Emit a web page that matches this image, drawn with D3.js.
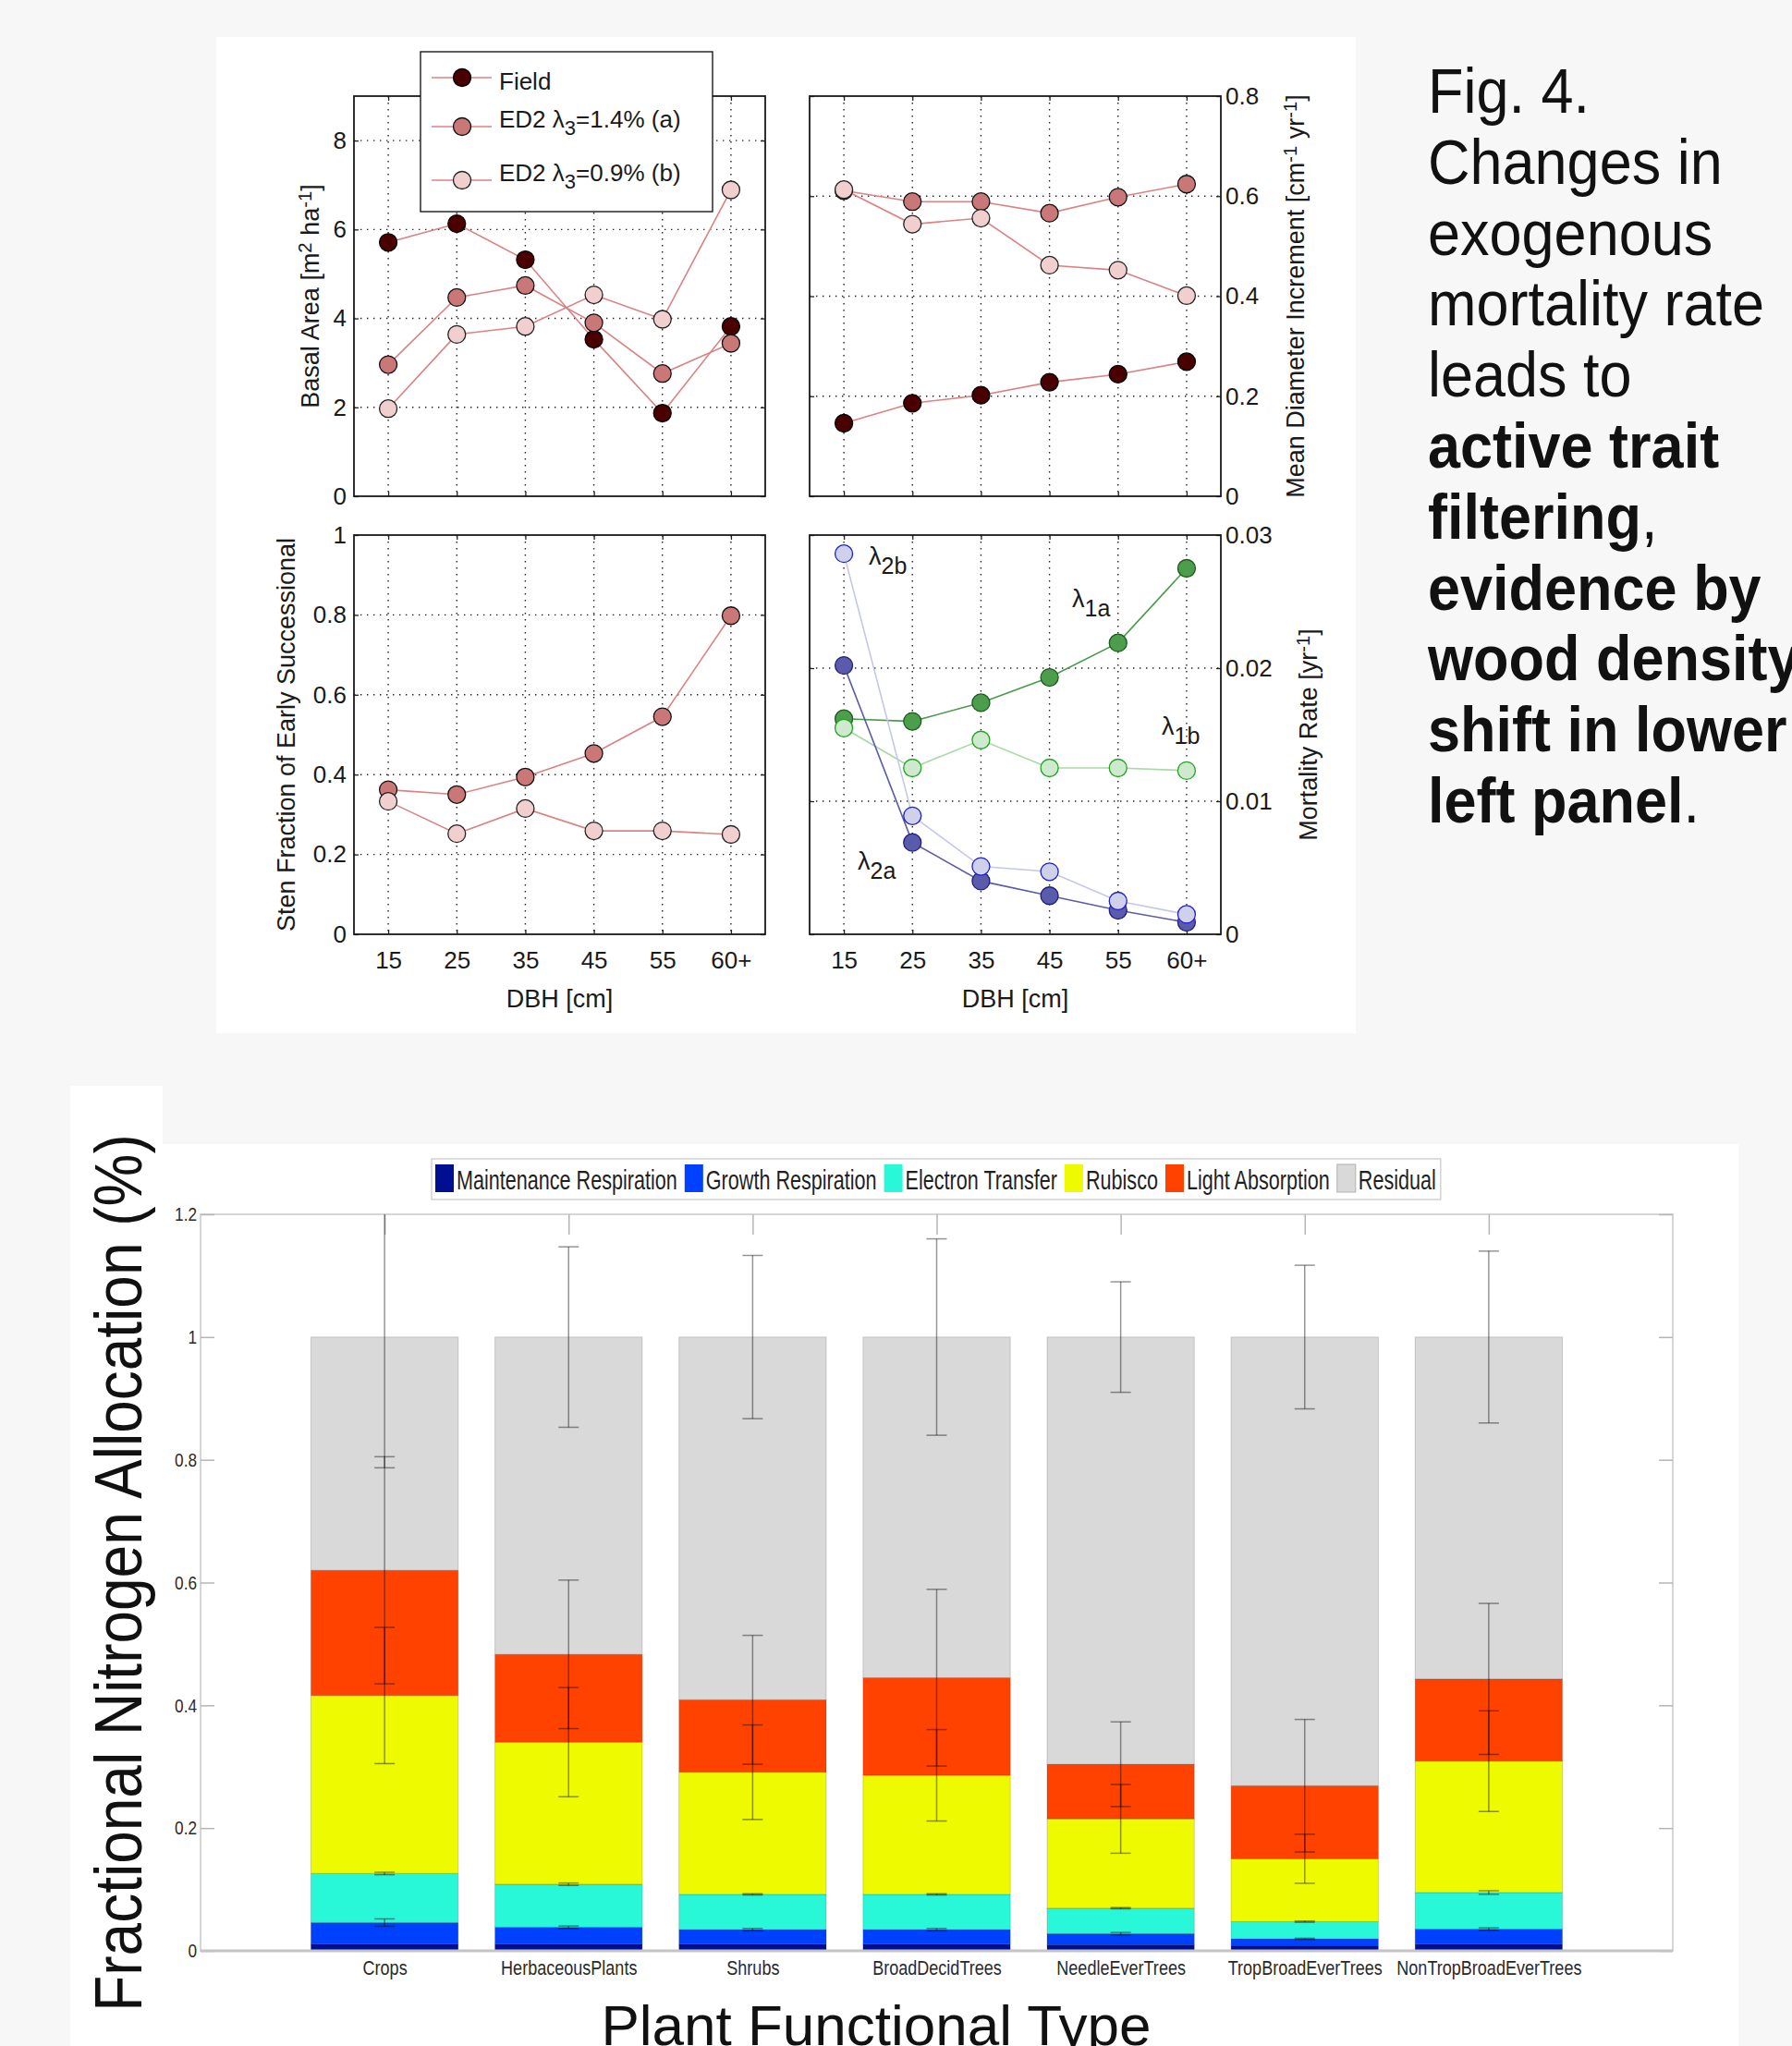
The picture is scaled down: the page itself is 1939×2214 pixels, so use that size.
<!DOCTYPE html>
<html>
<head>
<meta charset="utf-8">
<script src="https://cdnjs.cloudflare.com/ajax/libs/d3/7.8.5/d3.min.js"></script>
<style>
  body { margin: 0; background: #f7f7f8; }
  svg { display: block; }
  .grid { stroke: #222; stroke-width: 1.4; stroke-dasharray: 1.4 5.6; fill: none; }
  text { font-family: "Liberation Sans", Arial, Helvetica, sans-serif; }
</style>
</head>
<body>
<svg id="fig" width="1939" height="2214"></svg>
<script>
// ---------- stand-structure panels (DBH classes) ----------
const dbhValues = [15, 25, 35, 45, 55, 65];
const dbhLabels = ["15", "25", "35", "45", "55", "60+"];

// Basal area [m2 ha-1]
const basalField = [5.71, 6.13, 5.32, 3.53, 1.87, 3.82];
const basalA     = [2.96, 4.47, 4.74, 3.90, 2.76, 3.44];
const basalB     = [1.97, 3.64, 3.82, 4.53, 3.98, 6.89];

// Mean diameter increment [cm-1 yr-1]
const growthField = [0.146, 0.186, 0.202, 0.228, 0.244, 0.269];
const growthA     = [0.611, 0.589, 0.589, 0.566, 0.598, 0.624];
const growthB     = [0.613, 0.544, 0.556, 0.462, 0.452, 0.401];

// Stem fraction of early successional
const earlyA = [0.362, 0.350, 0.394, 0.453, 0.545, 0.798];
const earlyB = [0.333, 0.252, 0.315, 0.259, 0.259, 0.250];

// Mortality rate [yr-1]
const mort1a = [0.0162, 0.0160, 0.0174, 0.0193, 0.0219, 0.0275];
const mort1b = [0.0155, 0.0125, 0.0146, 0.0125, 0.0125, 0.0123];
const mort2a = [0.0202, 0.0069, 0.0040, 0.0029, 0.0018, 0.0009];
const mort2b = [0.0286, 0.0089, 0.0051, 0.0047, 0.0025, 0.0015];

// ---------- nitrogen allocation by plant functional type ----------
const pftNames = ["Crops", "HerbaceousPlants", "Shrubs", "BroadDecidTrees",
                  "NeedleEverTrees", "TropBroadEverTrees", "NonTropBroadEverTrees"];
const maintResp        = [0.011, 0.011, 0.011, 0.011, 0.010, 0.0075, 0.011];
const growthResp       = [0.035, 0.0275, 0.0235, 0.0235, 0.018, 0.012, 0.0245];
const electronTransfer = [0.080, 0.070, 0.0575, 0.0575, 0.0415, 0.028, 0.0595];
const rubisco          = [0.290, 0.2315, 0.199, 0.194, 0.1455, 0.1025, 0.214];
const lightAbsorption  = [0.204, 0.143, 0.118, 0.159, 0.089, 0.119, 0.134];
const residual         = [0.380, 0.517, 0.591, 0.555, 0.696, 0.731, 0.557];

// half-widths of the error bars at the top of each stacked component
const errGrowthResp = [0.006, 0.002, 0.002, 0.002, 0.002, 0.001, 0.002];
const errElectron   = [0.002, 0.002, 0.001, 0.001, 0.001, 0.001, 0.003];
const errRubisco    = [0.111, 0.089, 0.077, 0.0745, 0.056, 0.040, 0.082];
const errLight      = [0.185, 0.121, 0.105, 0.144, 0.069, 0.108, 0.123];
const errResidual   = [0.213, 0.147, 0.133, 0.160, 0.090, 0.117, 0.140];

const allocKeys   = ["Maintenance Respiration", "Growth Respiration", "Electron Transfer",
                     "Rubisco", "Light Absorption", "Residual"];
const allocColors = ["#000e92", "#0041ff", "#28f8d8", "#eefa00", "#ff4200", "#d9d9d9"];

const svg = d3.select("#fig");

// ---------- backgrounds ----------
svg.append("rect").attr("x", 0).attr("y", 0).attr("width", 1939).attr("height", 2214).attr("fill", "#f7f7f8");
svg.append("rect").attr("x", 234).attr("y", 40).attr("width", 1233).attr("height", 1078).attr("fill", "#fff");
svg.append("rect").attr("x", 76).attr("y", 1175).attr("width", 100).attr("height", 1039).attr("fill", "#fff");
svg.append("rect").attr("x", 174).attr("y", 1238).attr("width", 1707).attr("height", 976).attr("fill", "#fff");

// writes a run of text pieces with optional super/subscripts into a <text>
function rich(textSel, parts, baseSize) {
  parts.forEach(p => {
    const ts = textSel.append("tspan").text(p.t);
    if (p.sup) ts.attr("font-size", baseSize * 0.75).attr("baseline-shift", "42%");
    if (p.sub) ts.attr("font-size", baseSize * 0.85).attr("baseline-shift", "-38%");
  });
  return textSel;
}

const dbhX = (x0, x1) => d3.scaleLinear().domain([10, 70]).range([x0, x1]);

function panel(cfg) {
  const g = svg.append("g");
  const x = dbhX(cfg.x0, cfg.x1);
  const y = d3.scaleLinear().domain(cfg.yDomain).range([cfg.y1, cfg.y0]);

  g.append("rect").attr("x", cfg.x0).attr("y", cfg.y0)
    .attr("width", cfg.x1 - cfg.x0).attr("height", cfg.y1 - cfg.y0).attr("fill", "#fff");

  // dotted grid
  g.append("g").selectAll("line").data(dbhValues).join("line").attr("class", "grid")
    .attr("x1", d => x(d)).attr("x2", d => x(d)).attr("y1", cfg.y0).attr("y2", cfg.y1);
  g.append("g").selectAll("line").data(cfg.gridY).join("line").attr("class", "grid")
    .attr("x1", cfg.x0).attr("x2", cfg.x1).attr("y1", d => y(d)).attr("y2", d => y(d));

  // y axis with labels on the requested side, bare ticks on the other
  const left = cfg.ySide === "left";
  const yAx = (left ? d3.axisLeft(y) : d3.axisRight(y)).tickValues(cfg.yTicks)
    .tickFormat(cfg.yFormat).tickSizeInner(-5).tickSizeOuter(0).tickPadding(left ? 8 : 5);
  const ya = g.append("g").attr("transform", `translate(${left ? cfg.x0 : cfg.x1},0)`).call(yAx);
  const yOpp = (left ? d3.axisRight(y) : d3.axisLeft(y)).tickValues(cfg.yTicks)
    .tickFormat("").tickSizeInner(-5).tickSizeOuter(0);
  const yb = g.append("g").attr("transform", `translate(${left ? cfg.x1 : cfg.x0},0)`).call(yOpp);

  const xAx = d3.axisBottom(x).tickValues(dbhValues)
    .tickFormat(cfg.showX ? (d, i) => dbhLabels[i] : "").tickSizeInner(-5).tickSizeOuter(0).tickPadding(19);
  const xa = g.append("g").attr("transform", `translate(0,${cfg.y1})`).call(xAx);
  const xTop = d3.axisTop(x).tickValues(dbhValues).tickFormat("").tickSizeInner(-5).tickSizeOuter(0);
  const xt = g.append("g").attr("transform", `translate(0,${cfg.y0})`).call(xTop);

  [ya, yb, xa, xt].forEach(a => {
    a.select(".domain").remove();
    a.selectAll(".tick line").attr("stroke", "#222").attr("stroke-width", 1.3);
    a.selectAll("text").attr("font-size", 26).attr("fill", "#1a1a1a");
  });

  // axes box
  g.append("rect").attr("x", cfg.x0).attr("y", cfg.y0)
    .attr("width", cfg.x1 - cfg.x0).attr("height", cfg.y1 - cfg.y0)
    .attr("fill", "none").attr("stroke", "#1a1a1a").attr("stroke-width", 1.8);

  // series: connecting line then markers
  const line = d3.line().x((d, i) => x(dbhValues[i])).y(d => y(d));
  cfg.series.forEach(s => {
    g.append("path").datum(s.values).attr("d", line).attr("fill", "none")
      .attr("stroke", s.line).attr("stroke-width", 1.6);
    g.append("g").selectAll("circle").data(s.values).join("circle")
      .attr("cx", (d, i) => x(dbhValues[i])).attr("cy", d => y(d)).attr("r", 9.5)
      .attr("fill", s.fill).attr("stroke", s.edge).attr("stroke-width", 1.3);
  });

  // axis titles
  if (cfg.yLabel) {
    const t = g.append("text").attr("transform", `translate(${cfg.yLabel.x},${(cfg.y0 + cfg.y1) / 2}) rotate(-90)`)
      .attr("text-anchor", "middle").attr("font-size", 27).attr("fill", "#1a1a1a");
    rich(t, cfg.yLabel.parts, 27);
  }
  if (cfg.showX) {
    g.append("text").attr("x", (cfg.x0 + cfg.x1) / 2).attr("y", 1090)
      .attr("text-anchor", "middle").attr("font-size", 27).attr("fill", "#1a1a1a").text("DBH [cm]");
  }
  return { g, x, y };
}

const seriesField = (v) => ({ values: v, fill: "#4a0000", edge: "#000", line: "#dc8282" });
const seriesA     = (v) => ({ values: v, fill: "#c97777", edge: "#111", line: "#dc8282" });
const seriesB     = (v) => ({ values: v, fill: "#f1cfcf", edge: "#222", line: "#dc8282" });

// top-left: basal area
panel({
  x0: 383, x1: 828, y0: 104, y1: 537, yDomain: [0, 9], yTicks: [0, 2, 4, 6, 8], gridY: [2, 4, 6, 8],
  yFormat: d3.format("d"), ySide: "left", showX: false,
  yLabel: { x: 345, parts: [{ t: "Basal Area [m" }, { t: "2", sup: true }, { t: " ha" }, { t: "-1", sup: true }, { t: "]" }] },
  series: [seriesField(basalField), seriesA(basalA), seriesB(basalB)]
});

// top-right: mean diameter increment
panel({
  x0: 876, x1: 1321, y0: 104, y1: 537, yDomain: [0, 0.8], yTicks: [0, 0.2, 0.4, 0.6, 0.8], gridY: [0.2, 0.4, 0.6],
  yFormat: d => d === 0 ? "0" : d3.format(".1f")(d), ySide: "right", showX: false,
  yLabel: { x: 1411, parts: [{ t: "Mean Diameter Increment [cm" }, { t: "-1", sup: true }, { t: " yr" }, { t: "-1", sup: true }, { t: "]" }] },
  series: [seriesField(growthField), seriesA(growthA), seriesB(growthB)]
});

// bottom-left: early successional fraction
panel({
  x0: 383, x1: 828, y0: 579, y1: 1011, yDomain: [0, 1], yTicks: [0, 0.2, 0.4, 0.6, 0.8, 1], gridY: [0.2, 0.4, 0.6, 0.8],
  yFormat: d => (d === 0 || d === 1) ? String(d) : d3.format(".1f")(d), ySide: "left", showX: true,
  yLabel: { x: 319, parts: [{ t: "Sten Fraction of Early Successional" }] },
  series: [seriesA(earlyA), seriesB(earlyB)]
});

// bottom-right: mortality rates
panel({
  x0: 876, x1: 1321, y0: 579, y1: 1011, yDomain: [0, 0.03], yTicks: [0, 0.01, 0.02, 0.03], gridY: [0.01, 0.02],
  yFormat: d => d === 0 ? "0" : d3.format(".2f")(d), ySide: "right", showX: true,
  yLabel: { x: 1425, parts: [{ t: "Mortality Rate [yr" }, { t: "-1", sup: true }, { t: "]" }] },
  series: [
    { values: mort1a, fill: "#4c9e4c", edge: "#1d5a1d", line: "#4a9a4a" },
    { values: mort1b, fill: "#cfe9cf", edge: "#1fa51f", line: "#a6daa6" },
    { values: mort2a, fill: "#5b5bab", edge: "#1f1f7e", line: "#5b5bab" },
    { values: mort2b, fill: "#cfd0ea", edge: "#1f1fd0", line: "#c4c6ea" }
  ]
});

// lambda annotations on the mortality panel
[
  { x: 940, y: 611, sub: "2b" },
  { x: 1160, y: 657, sub: "1a" },
  { x: 1257, y: 795, sub: "1b" },
  { x: 928, y: 941, sub: "2a" }
].forEach(a => {
  const t = svg.append("text").attr("x", a.x).attr("y", a.y).attr("font-size", 27).attr("fill", "#1a1a1a");
  t.append("tspan").text("λ");
  t.append("tspan").attr("dy", 10).attr("font-size", 25).text(a.sub);
});

// legend of the top-left panel
const lg = svg.append("g");
lg.append("rect").attr("x", 455).attr("y", 56).attr("width", 316).attr("height", 173)
  .attr("fill", "#fff").attr("stroke", "#1a1a1a").attr("stroke-width", 1.4);
const legendRows = [
  { y: 84, tb: 97, s: seriesField([]), parts: [{ t: "Field" }] },
  { y: 137, tb: 138, s: seriesA([]), parts: [{ t: "ED2 λ" }, { t: "3", sub: true }, { t: "=1.4% (a)" }] },
  { y: 195, tb: 196, s: seriesB([]), parts: [{ t: "ED2 λ" }, { t: "3", sub: true }, { t: "=0.9% (b)" }] }
];
legendRows.forEach(r => {
  lg.append("line").attr("x1", 467).attr("x2", 532).attr("y1", r.y).attr("y2", r.y)
    .attr("stroke", r.s.line).attr("stroke-width", 1.6);
  lg.append("circle").attr("cx", 500).attr("cy", r.y).attr("r", 9.5)
    .attr("fill", r.s.fill).attr("stroke", r.s.edge).attr("stroke-width", 1.3);
  const t = lg.append("text").attr("x", 540).attr("y", r.tb).attr("font-size", 26).attr("fill", "#1a1a1a");
  rich(t, r.parts, 26);
});

// ---------- caption ----------
const caption = [
  [{ t: "Fig. 4." }],
  [{ t: "Changes in" }],
  [{ t: "exogenous" }],
  [{ t: "mortality rate" }],
  [{ t: "leads to" }],
  [{ t: "active trait", b: true }],
  [{ t: "filtering", b: true }, { t: "," }],
  [{ t: "evidence by", b: true }],
  [{ t: "wood density", b: true }],
  [{ t: "shift in lower", b: true }],
  [{ t: "left panel", b: true }, { t: "." }]
];
caption.forEach((ln, i) => {
  const t = svg.append("text").attr("transform", `translate(1545,${122 + i * 76.8}) scale(1,1.1)`)
    .attr("font-size", 63).attr("fill", "#111");
  ln.forEach(p => t.append("tspan").attr("font-weight", p.b ? "bold" : "normal").text(p.t));
});

// ---------- stacked nitrogen allocation bars ----------
const rows = pftNames.map((n, i) => ({
  name: n,
  "Maintenance Respiration": maintResp[i],
  "Growth Respiration": growthResp[i],
  "Electron Transfer": electronTransfer[i],
  "Rubisco": rubisco[i],
  "Light Absorption": lightAbsorption[i],
  "Residual": residual[i]
}));
const stacked = d3.stack().keys(allocKeys)(rows);
const errByLayer = [null, errGrowthResp, errElectron, errRubisco, errLight, errResidual];

const bx0 = 217, bx1 = 1810, by0 = 1314, by1 = 2111;
const xB = d3.scaleLinear().domain([0, 8]).range([bx0, bx1]);
const yB = d3.scaleLinear().domain([0, 1.2]).range([by1, by0]);
const barW = xB(0.8) - xB(0);
const bg = svg.append("g");

svg.append("defs").append("clipPath").attr("id", "plotClip")
  .append("rect").attr("x", bx0).attr("y", by0).attr("width", bx1 - bx0).attr("height", by1 - by0);

// frame
bg.append("rect").attr("x", bx0).attr("y", by0).attr("width", bx1 - bx0).attr("height", by1 - by0)
  .attr("fill", "none").attr("stroke", "#d6d6d6").attr("stroke-width", 2);

stacked.forEach((layer, k) => {
  bg.append("g").selectAll("rect").data(layer).join("rect")
    .attr("x", (d, i) => xB(i + 1) - barW / 2).attr("width", barW)
    .attr("y", d => yB(d[1])).attr("height", d => yB(d[0]) - yB(d[1]))
    .attr("fill", allocColors[k]).attr("stroke", "rgba(0,0,0,0.16)").attr("stroke-width", 1);
});

// axes of the bar chart
const yTickVals = [0, 0.2, 0.4, 0.6, 0.8, 1, 1.2];
const bya = bg.append("g").attr("transform", `translate(${bx0},0)`)
  .call(d3.axisLeft(yB).tickValues(yTickVals)
    .tickFormat(d => (d === 0 || d === 1) ? String(d) : d3.format(".1f")(d))
    .tickSizeInner(-15).tickSizeOuter(0).tickPadding(4));
const byR = bg.append("g").attr("transform", `translate(${bx1},0)`)
  .call(d3.axisRight(yB).tickValues(yTickVals).tickFormat("").tickSizeInner(-15).tickSizeOuter(0));
const bxT = bg.append("g").attr("transform", `translate(0,${by0})`)
  .call(d3.axisTop(xB).tickValues(d3.range(1, 8)).tickFormat("").tickSizeInner(-22).tickSizeOuter(0));
const bxa = bg.append("g").attr("transform", `translate(0,${by1})`)
  .call(d3.axisBottom(xB).tickValues(d3.range(1, 8)).tickFormat(d => pftNames[d - 1])
    .tickSizeInner(0).tickSizeOuter(0).tickPadding(10));
[bya, byR, bxT, bxa].forEach(a => {
  a.select(".domain").remove();
  a.selectAll(".tick line").attr("stroke", "#b5b5b5").attr("stroke-width", 1.5);
});
// condensed tick labels
bya.selectAll("text").attr("font-size", 21).attr("fill", "#2a2a2a")
  .attr("transform", "scale(0.82,1)").attr("x", -4 / 0.82);
bxa.selectAll("text").attr("font-size", 22).attr("fill", "#2a2a2a").attr("transform", "scale(0.82,1)");

// zero line
bg.append("line").attr("x1", bx0).attr("x2", bx1).attr("y1", by1).attr("y2", by1)
  .attr("stroke", "#c4c4c4").attr("stroke-width", 3);

// error bars on the top of each stacked component
const eg = bg.append("g").attr("clip-path", "url(#plotClip)")
  .attr("stroke", "rgba(0,0,0,0.42)").attr("stroke-width", 1.5);
stacked.forEach((layer, k) => {
  const errs = errByLayer[k];
  if (!errs) return;
  layer.forEach((d, i) => {
    const cx = xB(i + 1), v = d[1], e = errs[i];
    eg.append("line").attr("x1", cx).attr("x2", cx).attr("y1", yB(v - e)).attr("y2", yB(v + e));
    [v - e, v + e].forEach(c => eg.append("line").attr("x1", cx - 11).attr("x2", cx + 11)
      .attr("y1", yB(c)).attr("y2", yB(c)));
  });
});

// legend of the bar chart
const blg = svg.append("g");
const lgBox = blg.append("rect").attr("x", 467).attr("y", 1254).attr("height", 44)
  .attr("fill", "#fff").attr("stroke", "#d2d2d2").attr("stroke-width", 1.5);
const lgScale = 0.72;
let lx = 471;
allocKeys.forEach((k, i) => {
  blg.append("rect").attr("x", lx).attr("y", 1260).attr("width", 20).attr("height", 30)
    .attr("fill", allocColors[i]).attr("stroke", i === 5 ? "#b0b0b0" : "none");
  const t = blg.append("text").attr("transform", `translate(${lx + 23},1287) scale(${lgScale},1)`)
    .attr("font-size", 30).attr("fill", "#1f1f1f").text(k);
  lx += 23 + t.node().getComputedTextLength() * lgScale + 8;
});
lgBox.attr("width", lx - 467 - 3);

// axis titles of the bar chart
svg.append("text").attr("transform", "translate(153,1702) rotate(-90) scale(1,1.12)")
  .attr("text-anchor", "middle").attr("font-size", 64).attr("fill", "#111")
  .text("Fractional Nitrogen Allocation (%)");
svg.append("text").attr("x", 948).attr("y", 2213).attr("text-anchor", "middle")
  .attr("font-size", 62).attr("fill", "#111").text("Plant Functional Type");
</script>
</body>
</html>
